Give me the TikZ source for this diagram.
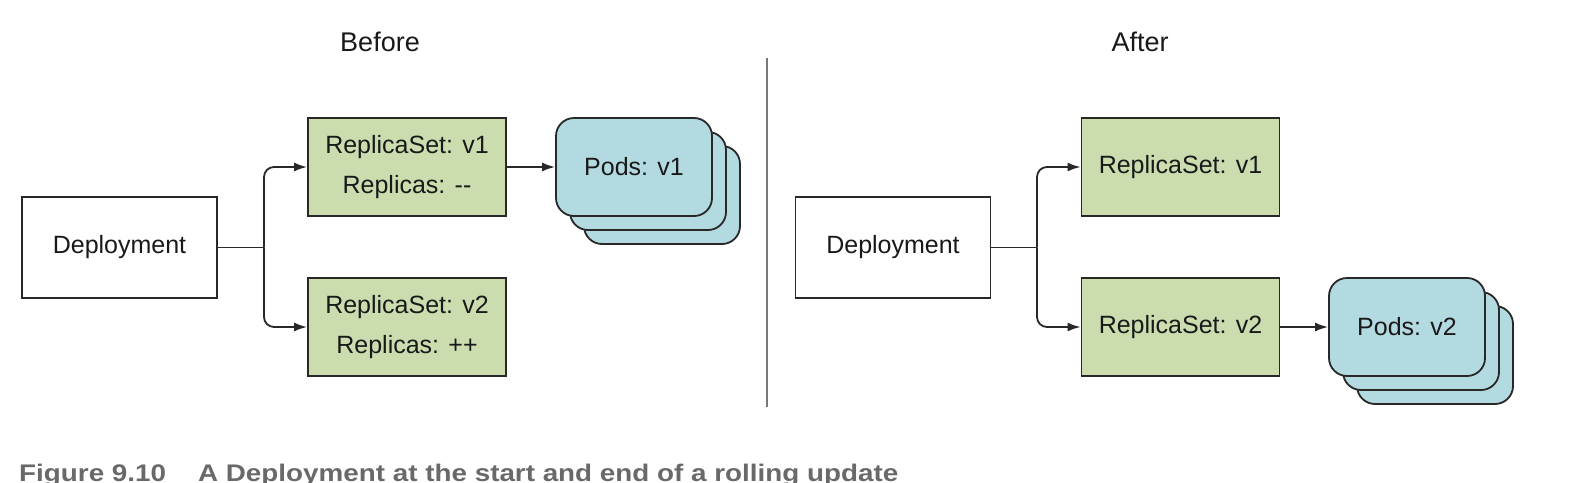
\documentclass[tikz,border=0pt]{standalone}
\usepackage{fontspec}
\setmainfont{Liberation Sans}
\usetikzlibrary{arrows.meta}
\definecolor{rsgreen}{RGB}{203,221,175}
\definecolor{podblue}{RGB}{180,218,225}
\definecolor{edgec}{RGB}{40,40,40}
\definecolor{capgray}{RGB}{105,105,105}
\definecolor{divgray}{RGB}{120,120,120}
\tikzset{
  box/.style={draw=edgec, line width=1.8pt, inner sep=0pt, align=center,
    font=\fontsize{25}{40}\selectfont, text=black!90},
  depbox/.style={box, fill=white, minimum width=195pt, minimum height=101pt},
  rsbox/.style={box, fill=rsgreen, minimum width=198pt, minimum height=98pt},
  podbox/.style={box, fill=podblue, rounded corners=18pt, minimum width=156pt, minimum height=98pt},
  conn/.style={draw=edgec, line width=1.8pt},
  arr/.style={conn, -{Latex[length=13pt,width=9pt]}},
  head/.style={font=\fontsize{27}{30}\selectfont, text=black!90, inner sep=0pt}
}
\begin{document}
\begin{tikzpicture}[x=1pt,y=-1pt]
\useasboundingbox (0,0) rectangle (1578,482);
% headings
\node[head] (before) at (380,42) {Before};
\node[head] (after) at (1140,42) {After};
% divider
\coordinate (divtop) at (767,58);
\coordinate (divbot) at (767,407);
\draw[divgray, line width=1.6pt] (divtop) -- (divbot);

% ---------- Left ----------
\node[depbox] (depL) at (119.5,247.5) {Deployment};
\node[rsbox] (rsL1) at (407,167) {ReplicaSet: v1\\Replicas: {-}{-}};
\node[rsbox] (rsL2) at (407,327) {ReplicaSet: v2\\Replicas: ++};
\node[podbox] (podL3) at (662,195) {};
\node[podbox] (podL2) at (648,181) {};
\node[podbox] (podL1) at (634,167) {Pods: v1};
\coordinate (jL) at (264,247.5);
\draw[conn] (depL.east) -- (jL);
\draw[arr, rounded corners=10pt] (jL) |- (rsL1.west);
\draw[arr, rounded corners=10pt] (jL) |- (rsL2.west);
\draw[arr] (rsL1.east) -- (podL1.west);

% ---------- Right ----------
\node[depbox] (depR) at (893,247.5) {Deployment};
\node[rsbox] (rsR1) at (1180.5,167) {ReplicaSet: v1};
\node[rsbox] (rsR2) at (1180.5,327) {ReplicaSet: v2};
\node[podbox] (podR3) at (1435,355) {};
\node[podbox] (podR2) at (1421,341) {};
\node[podbox] (podR1) at (1407,327) {Pods: v2};
\coordinate (jR) at (1037,247.5);
\draw[conn] (depR.east) -- (jR);
\draw[arr, rounded corners=10pt] (jR) |- (rsR1.west);
\draw[arr, rounded corners=10pt] (jR) |- (rsR2.west);
\draw[arr] (rsR2.east) -- (podR1.west);

% caption
\node[anchor=base west, inner sep=0pt, text=capgray] (cap) at (19,481.5)
  {\resizebox{879pt}{17.4pt}{\bfseries Figure 9.10\hspace{1.15em}A Deployment at the start and end of a rolling update}};
\end{tikzpicture}
\end{document}
